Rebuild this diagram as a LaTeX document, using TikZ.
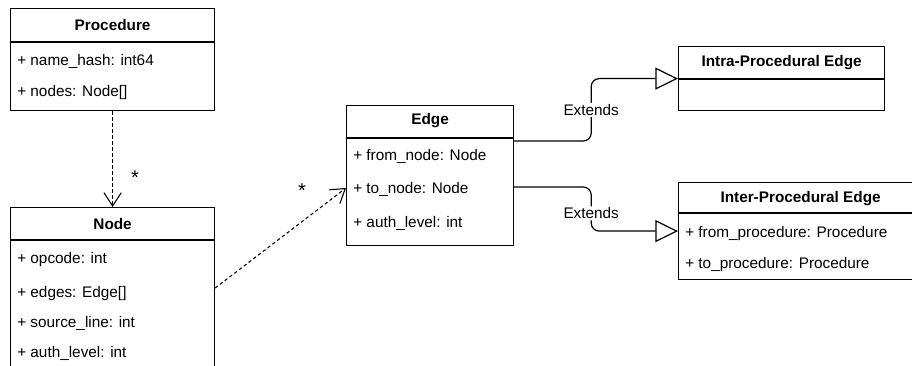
\documentclass[tikz,border=0pt]{standalone}
\usepackage{fontspec}
\setmainfont{Liberation Sans}
\usetikzlibrary{calc, arrows.meta}

\newcommand{\umlfont}{\fontsize{11.5pt}{14pt}\selectfont}

\tikzset{
    umlbox/.style={draw, line width=0.9pt, inner sep=0pt, anchor=north west},
    umltitle/.style={font=\umlfont\bfseries, inner sep=0pt},
    umlrow/.style={font=\umlfont, anchor=west, inner sep=0pt, text height=9pt, text depth=1pt},
    umlline/.style={line width=0.9pt},
    assoc/.style={line width=0.8pt, dash pattern=on 2.5pt off 2pt, -{Straight Barb[length=10pt, width=13pt]}},
    extends/.style={line width=0.9pt, rounded corners=6pt, -{Triangle[open, length=17pt, width=16.5pt, fill=white]}},
    extlabel/.style={font=\umlfont, fill=white, inner sep=1pt},
    mult/.style={font=\fontsize{15pt}{15pt}\selectfont, inner sep=0pt}
}

\begin{document}
\begin{tikzpicture}[x=0.75pt, y=-0.75pt]
    \useasboundingbox (0,0) rectangle (912,366);
    \clip (0,0) rectangle (912,366);

    \node[umlbox, minimum width=153pt, minimum height=76.5pt] (procedure) at (10,8) {};
    \node[umlbox, minimum width=153pt, minimum height=145pt] (nodebox) at (10,207) {};
    \node[umlbox, minimum width=125.25pt, minimum height=105pt] (edgebox) at (346,105) {};
    \node[umlbox, minimum width=154.5pt, minimum height=48pt] (intra) at (678,46) {};
    \node[umlbox, minimum width=183pt, minimum height=72.75pt] (inter) at (678,182) {};

    \draw[umlline] ($(procedure.north west)+(0,34)$) -- ($(procedure.north east)+(0,34)$);
    \draw[umlline] ($(nodebox.north west)+(0,33)$) -- ($(nodebox.north east)+(0,33)$);
    \draw[umlline] ($(edgebox.north west)+(0,33)$) -- ($(edgebox.north east)+(0,33)$);
    \draw[umlline] ($(intra.north west)+(0,33)$) -- ($(intra.north east)+(0,33)$);
    \draw[umlline] ($(inter.north west)+(0,31)$) -- ($(inter.north east)+(0,31)$);

    \node[umltitle] (proctitle) at ($(procedure.north)+(0,17)$) {Procedure};
    \node[umlrow] (namehash) at ($(procedure.north west)+(7,52)$) {+ name\_hash: int64};
    \node[umlrow] (procnodes) at ($(procedure.north west)+(7,83)$) {+ nodes: Node[]};

    \node[umltitle] (nodetitle) at ($(nodebox.north)+(0,17)$) {Node};
    \node[umlrow] (opcode) at ($(nodebox.north west)+(7,51)$) {+ opcode: int};
    \node[umlrow] (nodeedges) at ($(nodebox.north west)+(7,85)$) {+ edges: Edge[]};
    \node[umlrow] (sourceline) at ($(nodebox.north west)+(7,115)$) {+ source\_line: int};
    \node[umlrow] (nodeauth) at ($(nodebox.north west)+(7,145)$) {+ auth\_level: int};

    \node[umltitle] (edgetitle) at ($(edgebox.north)+(0,16)$) {Edge};
    \node[umlrow] (fromnode) at ($(edgebox.north west)+(7,50)$) {+ from\_node: Node};
    \node[umlrow] (tonode) at ($(edgebox.north west)+(7,83)$) {+ to\_node: Node};
    \node[umlrow] (edgeauth) at ($(edgebox.north west)+(7,117)$) {+ auth\_level: int};

    \node[umltitle] (intratitle) at ($(intra.north)+(0,17)$) {Intra-Procedural Edge};

    \node[umltitle] (intertitle) at ($(inter.north)+(0,17)$) {Inter-Procedural Edge};
    \node[umlrow] (fromproc) at ($(inter.north west)+(7,50)$) {+ from\_procedure: Procedure};
    \node[umlrow] (toproc) at ($(inter.north west)+(7,81)$) {+ to\_procedure: Procedure};

    \draw[assoc] (procedure.south) -- (nodebox.north);
    \node[mult] (multnode) at (135,178) {*};

    \draw[assoc] ($(nodebox.east |- nodeedges.west)+(0,-4)$) -- (edgebox.west |- tonode.west);
    \node[mult] (multedge) at (302,191) {*};

    \coordinate (fromA) at ($(edgebox.north east)+(0,36)$);
    \coordinate (fromB) at ($(edgebox.north east)+(0,82)$);
    \draw[extends] (fromA) -- ++(77,0) |- node[extlabel, pos=0.25] (extA) {Extends} (intra.west);
    \draw[extends] (fromB) -- ++(77,0) |- node[extlabel, pos=0.3] (extB) {Extends} (inter.west);
\end{tikzpicture}
\end{document}
